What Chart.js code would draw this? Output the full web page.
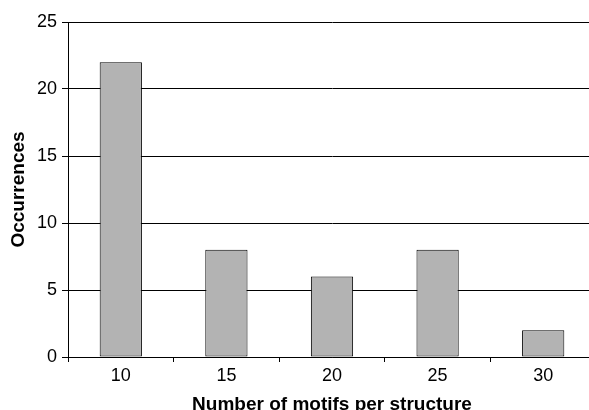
<!DOCTYPE html>
<html>
<head>
<meta charset="utf-8">
<script src="https://cdn.jsdelivr.net/npm/chart.js@4.4.1/dist/chart.umd.min.js"></script>
<style>
  html, body { margin: 0; padding: 0; background: #fff; overflow: hidden; }
  #wrap { position: relative; width: 600px; height: 416px; }
</style>
</head>
<body>
<div id="wrap"><canvas id="chart"></canvas></div>
<script>
// Data
const categories = ['10', '15', '20', '25', '30']
const occurrences = [22, 8, 6, 8, 2]
const yTicks = [0, 5, 10, 15, 20, 25]

const FONT = 'Liberation Sans, Arial, Helvetica, sans-serif'

const ctx = document.getElementById('chart').getContext('2d')

new Chart(ctx, {
  type: 'bar',
  data: {
    labels: categories,
    datasets: [{
      data: occurrences,
      backgroundColor: '#b3b3b3',
      borderColor: '#000',
      borderWidth: 1,
      borderSkipped: false,
      categoryPercentage: 0.4,
      barPercentage: 1.0,
    }],
  },
  options: {
    responsive: true,
    maintainAspectRatio: false,
    animation: false,
    layout: {
      padding: { top: 22, right: 4, bottom: 0, left: 0 },
    },
    plugins: {
      legend: { display: false },
      tooltip: { enabled: false },
    },
    scales: {
      x: {
        offset: true,
        grid: {
          offset: true,
          drawOnChartArea: false,
          drawTicks: true,
          tickLength: 5,
          color: '#000',
        },
        border: { display: true, color: '#000', width: 1 },
        ticks: {
          color: '#000',
          font: { family: FONT, size: 18 },
          padding: 3,
        },
        title: {
          display: true,
          text: 'Number of motifs per structure',
          color: '#000',
          font: { family: FONT, size: 19, weight: 'bold' },
          padding: { top: 0, bottom: 0 },
        },
        afterFit(scale) { scale.height = 59 },
      },
      y: {
        min: 0,
        max: 25,
        afterBuildTicks(scale) {
          scale.ticks = yTicks.map(v => ({ value: v }))
        },
        grid: {
          color: '#000',
          lineWidth: 1,
          drawTicks: true,
          tickLength: 6,
        },
        border: { display: true, color: '#000', width: 1 },
        ticks: {
          color: '#000',
          font: { family: FONT, size: 18 },
          padding: 5,
        },
        title: {
          display: true,
          text: 'Occurrences',
          color: '#000',
          font: { family: FONT, size: 19, weight: 'bold' },
          padding: { top: 7, bottom: 0 },
        },
        afterFit(scale) { scale.width = 68 },
      },
    },
  },
})
</script>
</body>
</html>
